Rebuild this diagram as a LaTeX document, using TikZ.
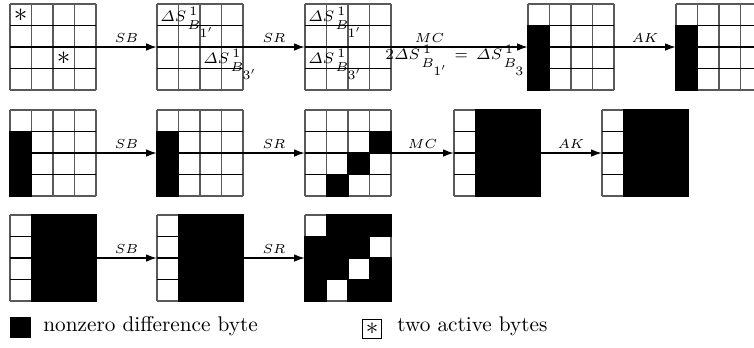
\documentclass[tikz,border=0pt]{standalone}
\usepackage{fix-cm}
\usepackage{amsmath}
\usetikzlibrary{arrows.meta}
\newcommand\dlfont{\fontsize{7.3}{8.5}\selectfont}
\newcommand\scrfont{\fontsize{6.2}{6.2}\selectfont}
% difference symbol with hand-placed super- and subscripts
\newcommand\subB[1]{\raisebox{-4pt}{\scrfont$B$\kern-0.3pt\raisebox{-4pt}{$#1$}}}
\newcommand\dS[1]{$\varDelta S$\rlap{\kern1.4pt\raisebox{2.6pt}{\scrfont$1$}}\kern0.6pt\subB{#1}}
% one 4x4 state: name, left edge, top edge (pixel-like units, y downwards)
\newcommand\stategrid[3]{%
  \node[gridbox] (#1) at (#2+43,#3+43) {};
  \foreach \i in {0,...,4} {\draw[vline] (#2+\i*21.5,#3) -- (#2+\i*21.5,#3+86);}
  \draw[vline] (#2,#3) -- (#2+86,#3);
  \draw[vline] (#2,#3+86) -- (#2+86,#3+86);
  \foreach \i in {1,2,3} {\draw[hline] (#2,#3+\i*21.5) -- (#2+86,#3+\i*21.5);}
}
% dark cells: left edge, top edge, list of row/column
\newcommand\darkcells[3]{%
  \foreach \r/\c in {#3} {\filldraw[darkcell] (#1+\c*21.5,#2+\r*21.5) rectangle ++(21.5,21.5);}
}
% dark block covering columns 1-3 of a state
\newcommand\darkblock[2]{\filldraw[darkcell] (#1+21.5,#2) rectangle (#1+86,#2+86);}
\tikzset{
  gridbox/.style={draw=none, minimum size=41.28pt, inner sep=0pt},
  vline/.style={draw=black!65, line width=0.6pt},
  hline/.style={draw=black, line width=0.6pt},
  darkcell/.style={fill=black, draw=black, line width=0.6pt},
  flow/.style={-{Latex[length=5pt,width=3.6pt]}, line width=0.55pt},
  oplabel/.style={font=\fontsize{6.3}{7}\selectfont, above, inner sep=2pt},
  dlabel/.style={anchor=base west, inner sep=0pt, font=\dlfont},
  astlabel/.style={inner sep=0pt, font=\fontsize{13}{14}\selectfont},
  legendtext/.style={anchor=base west, inner sep=0pt, font=\fontsize{10.2}{12}\selectfont}
}
\begin{document}
\begin{tikzpicture}[x=0.48pt,y=-0.48pt]
\useasboundingbox (0,0) rectangle (754,347);

% first round: two active bytes
\stategrid{a1}{10}{4}
\node[astlabel] (ast1) at (20.75,15) {$*$};
\node[astlabel] (ast2) at (63.75,58) {$*$};
\stategrid{a2}{157}{4}
\node[dlabel] (d21) at (160,21) {\dS{1'}};
\node[dlabel] (d22) at (203,63) {\dS{3'}};
\stategrid{a3}{305}{4}
\node[dlabel] (d31) at (308,21) {\dS{1'}};
\node[dlabel] (d32) at (308,63) {\dS{3'}};
\stategrid{a4}{528}{4}
\darkcells{528}{4}{1/0,2/0,3/0}
\stategrid{a5}{676}{4}
\darkcells{676}{4}{1/0,2/0,3/0}

\draw[flow] (a1.east) -- node[oplabel] (op1) {$SB$} (a2.west);
\draw[flow] (a2.east) -- node[oplabel] (op2) {$SR$} (a3.west);
\draw[flow] (a3.east) -- node[oplabel, pos=0.28] (op3) {$MC$} (a4.west);
\draw[flow] (a4.east) -- node[oplabel] (op4) {$AK$} (a5.west);
\node[dlabel] (cond) at (385,59) {$2$\dS{1'}\kern4pt$=$\kern4pt\dS{3}};

% second round: one active column
\stategrid{b1}{10}{110}
\darkcells{10}{110}{1/0,2/0,3/0}
\stategrid{b2}{157}{110}
\darkcells{157}{110}{1/0,2/0,3/0}
\stategrid{b3}{305}{110}
\darkcells{305}{110}{1/3,2/2,3/1}
\stategrid{b4}{454}{110}
\darkblock{454}{110}
\stategrid{b5}{602}{110}
\darkblock{602}{110}

\draw[flow] (b1.east) -- node[oplabel] (op5) {$SB$} (b2.west);
\draw[flow] (b2.east) -- node[oplabel] (op6) {$SR$} (b3.west);
\draw[flow] (b3.east) -- node[oplabel] (op7) {$MC$} (b4.west);
\draw[flow] (b4.east) -- node[oplabel] (op8) {$AK$} (b5.west);

% third round: three active columns
\stategrid{c1}{10}{215}
\darkblock{10}{215}
\stategrid{c2}{157}{215}
\darkblock{157}{215}
\stategrid{c3}{305}{215}
\darkcells{305}{215}{0/1,0/2,0/3,1/0,1/1,1/2,2/0,2/1,2/3,3/0,3/2,3/3}

\draw[flow] (c1.east) -- node[oplabel] (op9) {$SB$} (c2.west);
\draw[flow] (c2.east) -- node[oplabel] (op10) {$SR$} (c3.west);

% legend
\node[fill=black, minimum size=10pt, inner sep=0pt] (keydark) at (20.5,327.5) {};
\node[legendtext] (keydarktext) at (43,331) {nonzero difference byte};
\node[draw=black, line width=0.5pt, minimum size=8.8pt, inner sep=0pt] (keyast) at (372,329) {};
\node[astlabel, font=\fontsize{12}{13}\selectfont] (keyaststar) at (keyast) {$*$};
\node[legendtext] (keyasttext) at (397,331) {two active bytes};
\end{tikzpicture}
\end{document}
